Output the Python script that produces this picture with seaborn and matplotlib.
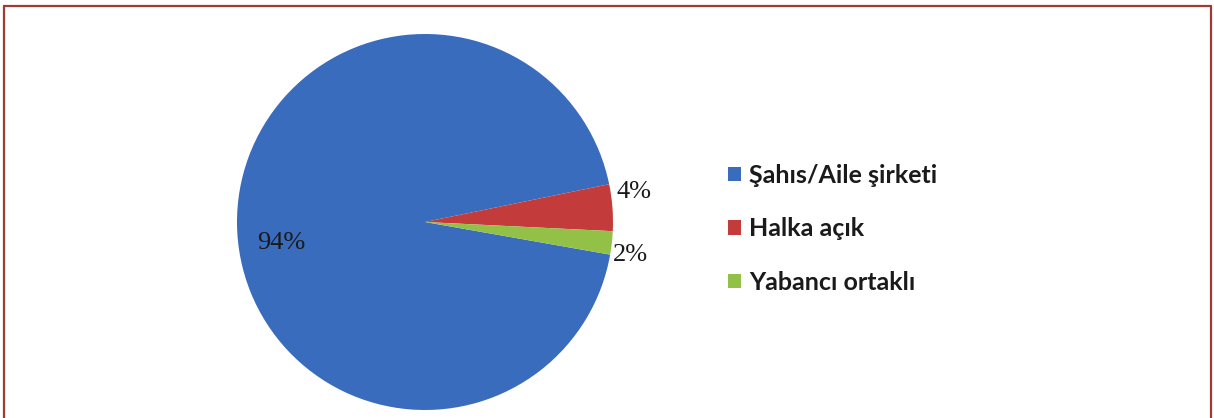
import matplotlib
matplotlib.use("Agg")
import matplotlib.pyplot as plt
import numpy as np
import seaborn as sns
from matplotlib.lines import Line2D

categories = ["Şahıs/Aile şirketi", "Halka açık", "Yabancı ortaklı"]
shares = [94, 4, 2]
pct_labels = ["94%", "4%", "2%"]
colors = ["#3a6cbd", "#c43b3b", "#93c047"]

sns.set_style("white")
plt.rcParams["font.family"] = ["Lato", "DejaVu Sans"]

fig = plt.figure(figsize=(12.14, 4.18), dpi=100)
W, H = 1214, 418
cx, cy, r = 425, 222, 188
ax = fig.add_axes([(cx - r) / W, (H - cy - r) / H, 2 * r / W, 2 * r / H])

wedges, _ = ax.pie(shares, colors=colors, startangle=-10, counterclock=False,
                   wedgeprops=dict(linewidth=0))
ax.set_xlim(-1, 1)
ax.set_ylim(-1, 1)
ax.set_aspect("equal")
ax.axis("off")

# percentage labels: inside for the big slice, just outside for the thin ones
label_pos = [(-0.765, -0.11, "center"), (1.02, 0.16, "left"), (1.0, -0.175, "left")]
for (x, y, ha), txt in zip(label_pos, pct_labels):
    ax.text(x, y, txt, ha=ha, va="center", fontsize=19,
            family=["Liberation Serif", "DejaVu Serif"], color="#1a1a1a")

fig.legend(wedges, categories, loc="center left",
           bbox_to_anchor=(718 / W, (H - 229) / H), frameon=False,
           prop=dict(size=18, weight="bold"), handlelength=0.52, handleheight=0.52,
           handletextpad=0.33, labelspacing=1.22, borderaxespad=0,
           labelcolor="#1a1a1a")

# dark red frame around the chart
bc = "#9e3b33"
fig.add_artist(Line2D([4 / W, 4 / W], [0, 1 - 6 / H], color=bc, lw=1.6))
fig.add_artist(Line2D([4 / W, 1211 / W], [1 - 6 / H, 1 - 6 / H], color=bc, lw=1.6))
fig.add_artist(Line2D([1211 / W, 1211 / W], [0, 1 - 6 / H], color=bc, lw=1.6))

fig.savefig("out.png", dpi=100)
